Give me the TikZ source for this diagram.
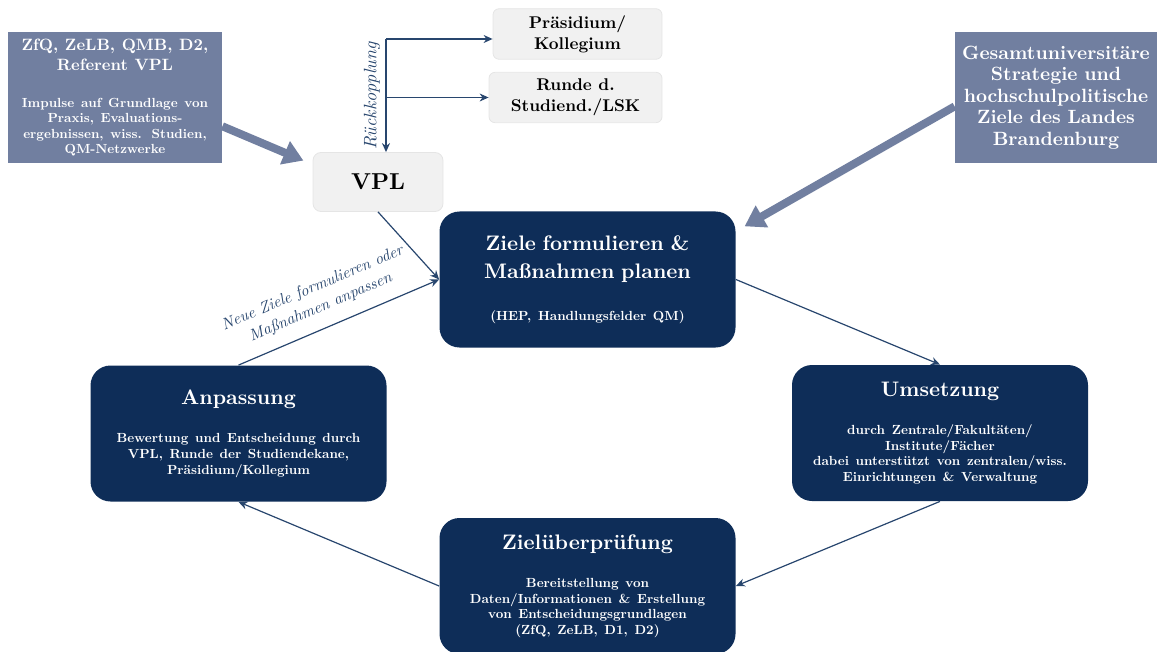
\documentclass[tikz,border=0pt]{standalone}
\usepackage{fontspec}
\setmainfont{lmroman10}[Extension=.otf, UprightFont=*-regular, BoldFont=*-bold,
  ItalicFont=*-italic, BoldItalicFont=*-bolditalic]
\usepackage{tikz}
\usetikzlibrary{arrows.meta,positioning}

\definecolor{navy}{HTML}{0E2D58}
\definecolor{slate}{HTML}{717FA0}
\definecolor{paleg}{HTML}{F1F1F1}
\definecolor{lineblue}{HTML}{28466E}

\newcommand{\boxtitle}{\fontsize{10.5}{14}\selectfont}
\newcommand{\boxtext}{\fontsize{6.6}{7.8}\selectfont}

\begin{document}
\begin{tikzpicture}[x=0.5pt,y=-0.5pt,
  every node/.style={font=\bfseries},
  phase/.style={fill=navy, text=white, rounded corners=10pt, align=center,
    minimum width=148pt, minimum height=68pt, text width=142pt, inner xsep=3pt},
  source/.style={fill=slate, text=white, align=center, inner xsep=2pt},
  gremium/.style={fill=paleg, draw=black!10, rounded corners=4pt, align=center},
  arr/.style={-{Stealth[length=4.5pt,width=4pt]}, lineblue, line width=0.6pt},
  bigarr/.style={-{Triangle[length=10pt,width=12pt]}, slate, line width=4pt},
  lbl/.style={font=\itshape\fontsize{8}{10.5}\selectfont, text=lineblue, align=center}
]
\useasboundingbox (0,0) rectangle (1160,652);

% Zyklus
\node[phase] (ziele) at (587.5,279.5)
  {\boxtitle Ziele formulieren \&\\ Maßnahmen planen\par\vspace{13pt}
   \boxtext (HEP, Handlungsfelder QM)\par};
\node[phase] (umsetzung) at (940,433)
  {\boxtitle Umsetzung\par\vspace{11.5pt}
   \boxtext durch Zentrale/Fakultäten/\\ Institute/Fächer\\
   dabei unterstützt von zentralen/wiss.\\ Einrichtungen \& Verwaltung\par};
\node[phase] (pruefung) at (587.5,586)
  {\boxtitle Zielüberprüfung\par\vspace{11.5pt}
   \boxtext Bereitstellung von\\ Daten/Informationen \& Erstellung\\
   von Entscheidungsgrundlagen\\ (ZfQ, ZeLB, D1, D2)\par};
\node[phase] (anpassung) at (238.5,433.5)
  {\boxtitle Anpassung\par\vspace{11.5pt}
   \boxtext Bewertung und Entscheidung durch\\ VPL, Runde der Studiendekane,\\
   Präsidium/Kollegium\par};

% Gremien
\node[gremium, minimum width=65pt, minimum height=29.5pt,
      font=\bfseries\fontsize{11.5}{14}\selectfont] (vpl) at (378,182) {VPL};
\node[gremium, rounded corners=3pt, minimum width=84.5pt, minimum height=23pt,
      font=\bfseries\fontsize{8.5}{10.5}\selectfont] (praes) at (577.5,34)
  {Präsidium/\\ Kollegium};
\node[gremium, rounded corners=3pt, minimum width=86.5pt, minimum height=22.5pt,
      font=\bfseries\fontsize{8.5}{10.5}\selectfont] (runde) at (575.5,97.5)
  {Runde d.\\ Studiend./LSK};

% Impulse von aussen
\node[source, minimum width=107pt, minimum height=65.5pt, text width=103pt] (impulse) at (115,97.5)
  {\fontsize{8.2}{10}\selectfont ZfQ, ZeLB, QMB, D2,\\ Referent VPL\par\vspace{11pt}
   \fontsize{6.6}{7.6}\selectfont Impulse auf Grundlage von\\ Praxis, Evaluations-\\
   ergebnissen, wiss. Studien,\\ QM-Netzwerke\par};
\node[source, minimum width=100pt, minimum height=65.5pt, text width=97pt] (strategie) at (1056,97.5)
  {\fontsize{9.6}{10.8}\selectfont Gesamtuniversitäre\\ Strategie und\\ hochschulpolitische\\
   Ziele des Landes\\ Brandenburg\par};

% Rueckkopplung
\coordinate (rk) at (386,39);
\draw[arr] (rk) -- (rk |- vpl.north);
\draw[arr] (rk) -- (rk -| praes.west);
\draw[arr] (rk |- runde.west) -- (runde.west);
\node[lbl, rotate=90, font=\itshape\fontsize{9}{10}\selectfont] (rklbl) at (372,96) {Rückkopplung};

% Pfeile
\draw[bigarr, shorten >=5pt] (impulse.-15) -- (vpl.165);
\draw[bigarr, shorten >=5pt] (strategie.185) -- (ziele.18);
\draw[arr] (vpl.south) -- (ziele.west);
\draw[arr] (anpassung.north) -- (ziele.west)
  node[lbl, pos=0.45, sloped, above=3pt] {Neue Ziele formulieren oder\\ Maßnahmen anpassen};
\draw[arr] (ziele.east) -- (umsetzung.north);
\draw[arr] (umsetzung.south) -- (pruefung.east);
\draw[arr] (pruefung.west) -- (anpassung.south);
\end{tikzpicture}
\end{document}
